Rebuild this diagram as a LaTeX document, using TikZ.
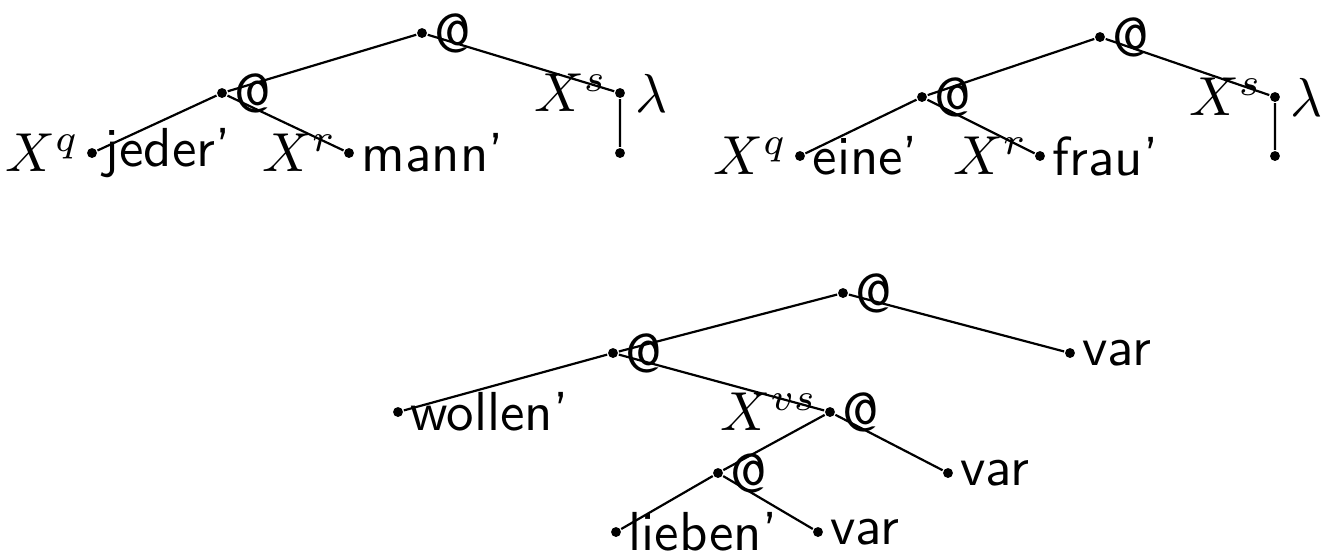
\documentclass[tikz,border=0pt]{standalone}
\usepackage{tikz}
\tikzset{
%Define style for the tree vertices
vertex/.style={circle, fill=black, inner sep=0pt, minimum size=1.8pt},
%Labels sit close to their vertex
every label/.style={inner sep=1pt},
%Words of the lexicon are set in sans serif
word/.style={font=\sffamily},
%Application nodes
app/.style={vertex, label={[word]right:@}},
}

\begin{document}
\begin{tikzpicture}[x=0.182pt,y=-0.182pt]
\useasboundingbox (0,0) rectangle (1331,555);
% First tree: jeder mann
\node[app] (jroot) at (422,33) {};
\node[app] (japp) at (222,93) {};
\node[vertex, label=left:$X^q$, label={[word]right:jeder'}] (jq) at (92,153) {};
\node[vertex, label=left:$X^r$, label={[word]right:mann'}] (jr) at (349,153) {};
\node[vertex, label=left:$X^s$, label={[label distance=0.5pt]right:$\lambda$}] (js) at (620,93) {};
\node[vertex] (jbody) at (620,153) {};
\draw (jroot) -- (japp) -- (jq);
\draw (japp) -- (jr);
\draw (jroot) -- (js) -- (jbody);
% Second tree: eine frau
\node[app] (eroot) at (1100,37) {};
\node[app] (eapp) at (922,97) {};
\node[vertex, label=left:$X^q$, label={[word]right:eine'}] (eq) at (800,156) {};
\node[vertex, label=left:$X^r$, label={[word]right:frau'}] (er) at (1040,156) {};
\node[vertex, label=left:$X^s$, label={[label distance=0.5pt]right:$\lambda$}] (es) at (1275,97) {};
\node[vertex] (ebody) at (1275,156) {};
\draw (eroot) -- (eapp) -- (eq);
\draw (eapp) -- (er);
\draw (eroot) -- (es) -- (ebody);
% Third tree: wollen and lieben
\node[app] (wroot) at (843,293) {};
\node[app] (wapp) at (613,353) {};
\node[vertex, label={[word]right:var}] (wvar) at (1070,353) {};
\node[vertex, label={[word]right:wollen'}] (wollen) at (398,412) {};
\node[app, label=left:$X^{vs}$] (wvs) at (830,412) {};
\node[app] (lapp) at (718,473) {};
\node[vertex, label={[word]right:var}] (lvar) at (948,473) {};
\node[vertex, label={[word]right:lieben'}] (lieben) at (616,532) {};
\node[vertex, label={[word]right:var}] (lvarb) at (818,532) {};
\draw (wroot) -- (wapp) -- (wollen);
\draw (wroot) -- (wvar);
\draw (wapp) -- (wvs) -- (lapp) -- (lieben);
\draw (wvs) -- (lvar);
\draw (lapp) -- (lvarb);
\end{tikzpicture}
\end{document}
